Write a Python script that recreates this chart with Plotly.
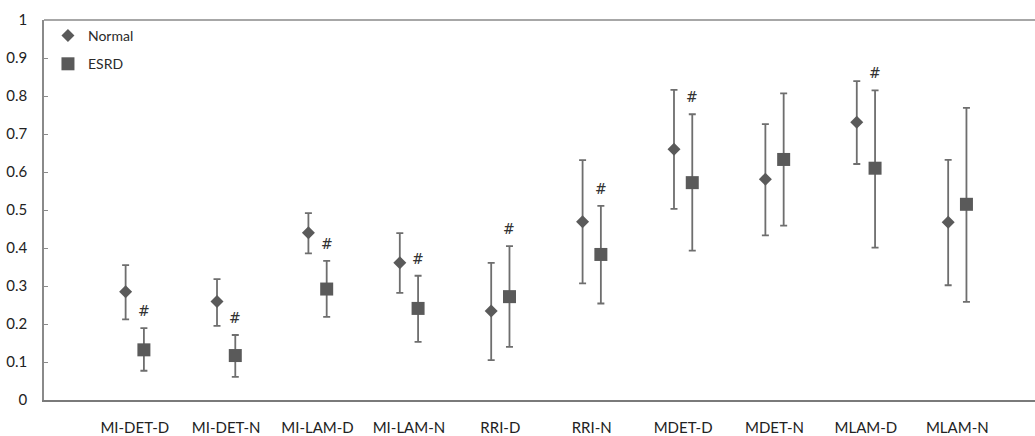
import plotly.graph_objects as go

categories = ["MI-DET-D", "MI-DET-N", "MI-LAM-D", "MI-LAM-N", "RRI-D",
              "RRI-N", "MDET-D", "MDET-N", "MLAM-D", "MLAM-N"]

normal_mean = [0.285, 0.259, 0.440, 0.361, 0.234, 0.469, 0.660, 0.581, 0.731, 0.468]
normal_upper = [0.355, 0.318, 0.492, 0.439, 0.361, 0.631, 0.816, 0.726, 0.839, 0.632]
normal_lower = [0.212, 0.195, 0.386, 0.282, 0.105, 0.307, 0.503, 0.433, 0.621, 0.302]

esrd_mean = [0.132, 0.117, 0.292, 0.241, 0.272, 0.383, 0.572, 0.633, 0.610, 0.515]
esrd_upper = [0.189, 0.171, 0.366, 0.327, 0.405, 0.511, 0.752, 0.807, 0.815, 0.769]
esrd_lower = [0.077, 0.061, 0.219, 0.153, 0.140, 0.254, 0.393, 0.459, 0.401, 0.258]

significant = [True, True, True, True, True, True, True, False, True, False]

y_ticks = [0, 0.1, 0.2, 0.3, 0.4, 0.5, 0.6, 0.7, 0.8, 0.9, 1]
y_tick_text = ["0", "0.1", "0.2", "0.3", "0.4", "0.5", "0.6", "0.7", "0.8", "0.9", "1"]

idx = list(range(len(categories)))
off = 0.1
x_normal = [i - off for i in idx]
x_esrd = [i + off for i in idx]

marker_color = "#5a5a5a"
err_color = "#6e6e6e"

fig = go.Figure()
fig.add_trace(go.Scatter(
    x=x_normal, y=normal_mean, mode="markers", name="Normal",
    legendgroup="n",
    marker=dict(symbol="diamond", size=10, color=marker_color),
    error_y=dict(type="data", symmetric=False,
                 array=[u - m for u, m in zip(normal_upper, normal_mean)],
                 arrayminus=[m - l for m, l in zip(normal_mean, normal_lower)],
                 color=err_color, thickness=1.8, width=3.5),
))
fig.add_trace(go.Scatter(
    x=x_esrd, y=esrd_mean, mode="markers", name="ESRD",
    legendgroup="e",
    marker=dict(symbol="square", size=13, color=marker_color),
    error_y=dict(type="data", symmetric=False,
                 array=[u - m for u, m in zip(esrd_upper, esrd_mean)],
                 arrayminus=[m - l for m, l in zip(esrd_mean, esrd_lower)],
                 color=err_color, thickness=1.8, width=3.5),
))

for i, sig in enumerate(significant):
    if sig:
        fig.add_annotation(x=x_esrd[i], y=esrd_upper[i], text="#",
                           showarrow=False, yshift=17, yanchor="middle",
                           font=dict(family="DejaVu Serif", size=14, color="#333333"))

fig.update_layout(
    width=1035, height=436,
    margin=dict(l=44, r=0, t=20, b=36, autoexpand=False),
    paper_bgcolor="white", plot_bgcolor="white",
    font=dict(family="Lato", color="#333333"),
    showlegend=True,
    legend=dict(x=0.004, y=1.0, xanchor="left", yanchor="top",
                bgcolor="rgba(0,0,0,0)", font=dict(size=14, color="#2a2a2a"),
                tracegroupgap=7, traceorder="grouped"),
    xaxis=dict(range=[-0.993, 9.85], tickvals=idx, ticktext=categories,
               showgrid=False, zeroline=False, showline=True,
               linecolor="#7a7a7a", linewidth=2, ticks="",
               ticklabelstandoff=13, automargin=False,
               tickfont=dict(family="Lato", size=15, color="#222222")),
    yaxis=dict(range=[0, 1], tickvals=y_ticks, ticktext=y_tick_text,
               showgrid=False, zeroline=False, showline=True,
               linecolor="#8a8a8a", linewidth=1.5, mirror=False,
               ticks="inside", ticklen=4, tickcolor="#8a8a8a",
               ticklabelstandoff=12, automargin=False,
               tickfont=dict(family="Lato", size=15, color="#222222")),
)

fig.add_shape(type="line", xref="paper", yref="paper", x0=0, x1=1, y0=1, y1=1,
              line=dict(color="#8a8a8a", width=1.5))

fig.write_html("out.html",
               config={"displayModeBar": False},
               post_script="document.body.style.margin='0';document.body.style.padding='0';")
